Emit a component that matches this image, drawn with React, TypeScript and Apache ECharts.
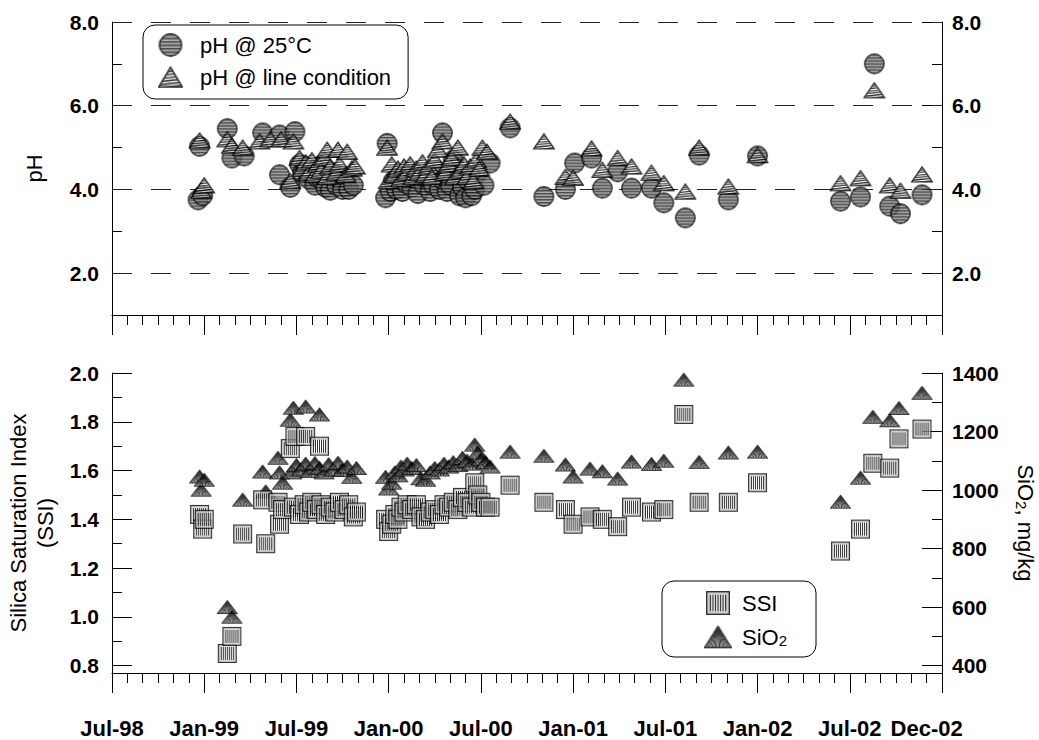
import React, { useEffect, useRef } from 'react';
import * as echarts from 'echarts';

const FONT = '"Liberation Sans", Arial, Helvetica, sans-serif';

// x values: months elapsed since 1 Jul 1998
const ph25: number[][] = [
  [5.7, 5.03], [5.6, 3.75], [5.9, 3.85],
  [7.5, 5.45], [7.8, 4.75], [8.6, 4.8],
  [9.8, 5.35], [10.9, 5.3], [11.9, 5.38], [10.9, 4.35], [11.6, 4.05],
  [12.2, 4.6], [12.4, 4.4], [12.6, 4.55], [12.8, 4.25], [13.0, 4.45], [13.2, 4.1], [13.3, 4.3],
  [13.5, 4.55], [13.7, 4.2], [13.9, 4.05], [14.0, 4.35], [14.2, 3.98], [14.4, 4.4], [14.6, 4.1],
  [14.8, 4.25], [15.0, 4.0], [15.2, 4.3], [15.4, 4.0], [15.7, 4.1],
  [17.9, 5.1], [17.8, 3.8], [18.1, 3.95], [18.3, 4.2], [18.5, 4.0], [18.7, 4.3], [18.9, 3.95],
  [19.1, 4.15], [19.3, 4.4], [19.5, 4.05], [19.7, 4.25], [19.9, 3.9], [20.1, 4.3], [20.3, 4.1],
  [20.5, 4.25], [20.7, 3.95], [20.9, 4.1], [21.1, 4.45], [21.3, 4.0], [21.5, 5.35], [21.6, 4.2],
  [21.8, 3.95], [22.2, 4.7], [22.0, 4.1], [22.4, 4.5], [22.6, 3.85], [22.8, 4.05], [23.0, 3.8],
  [23.2, 4.2], [23.4, 3.85], [23.6, 4.0], [23.8, 4.4], [24.6, 4.63], [24.2, 4.1],
  [25.9, 5.47], [28.1, 3.83], [29.5, 4.0], [30.1, 4.63], [31.2, 4.75], [31.9, 4.03], [32.9, 4.42],
  [33.8, 4.03], [35.1, 4.03], [35.9, 3.68], [37.3, 3.32], [38.2, 4.82], [40.1, 3.75], [42.0, 4.8],
  [47.4, 3.72], [48.7, 3.82], [49.6, 7.0], [50.6, 3.6], [51.3, 3.42], [52.7, 3.87],
];

const phLine: number[][] = [
  [5.7, 5.17], [5.8, 3.97], [6.0, 4.1],
  [7.5, 5.2], [7.8, 5.05], [8.5, 5.0],
  [9.6, 5.15], [10.3, 5.2], [11.0, 5.2], [11.8, 5.15], [11.6, 4.2],
  [12.2, 4.75], [12.4, 4.5], [12.6, 4.65], [12.8, 4.4], [13.0, 4.7], [13.2, 4.35], [13.4, 4.6],
  [13.6, 4.45], [13.8, 4.75], [14.0, 4.3], [14.2, 4.55], [14.0, 4.95], [14.6, 4.4], [14.8, 4.6],
  [14.7, 4.95], [15.2, 4.35], [15.3, 4.9], [15.6, 4.5], [15.8, 4.55],
  [17.9, 5.0], [18.0, 4.2], [18.2, 4.6], [18.4, 4.35], [18.6, 4.5], [18.8, 4.25], [19.0, 4.55],
  [19.2, 4.4], [19.4, 4.6], [19.6, 4.3], [19.8, 4.5], [20.0, 4.4], [20.2, 4.65], [20.4, 4.35],
  [20.6, 4.55], [20.8, 4.3], [21.0, 4.7], [21.2, 4.95], [21.5, 5.15], [21.7, 4.4], [21.9, 4.6],
  [22.1, 4.75], [22.3, 4.3], [22.5, 5.0], [22.7, 4.45], [22.9, 4.6], [23.1, 4.3], [23.3, 4.55],
  [23.5, 4.2], [23.7, 4.7], [23.9, 4.5], [24.1, 5.0], [24.4, 4.9],
  [25.9, 5.62], [28.1, 5.15], [29.5, 4.3], [30.0, 4.28], [31.2, 4.98], [31.9, 4.47], [32.9, 4.75],
  [33.8, 4.55], [35.1, 4.4], [35.9, 4.15], [37.3, 3.95], [38.2, 5.0], [40.1, 4.07], [42.0, 4.82],
  [47.4, 4.15], [48.7, 4.27], [49.6, 6.37], [50.6, 4.1], [51.3, 3.97], [52.7, 4.36],
];

const ssi: number[][] = [
  [5.7, 1.42], [5.9, 1.36], [6.0, 1.4],
  [7.5, 0.85], [7.8, 0.92],
  [8.5, 1.34],
  [9.8, 1.48], [10.0, 1.3], [10.8, 1.47], [10.9, 1.38], [11.1, 1.44],
  [11.6, 1.69], [11.9, 1.74], [12.6, 1.74], [13.5, 1.7],
  [11.8, 1.45], [12.2, 1.42], [12.5, 1.46], [12.8, 1.43], [13.0, 1.47], [13.3, 1.44], [13.6, 1.46],
  [13.9, 1.42], [14.2, 1.45], [14.5, 1.43], [14.8, 1.47], [15.1, 1.44], [15.4, 1.46], [15.7, 1.41],
  [15.9, 1.43],
  [17.8, 1.4], [18.0, 1.35], [18.2, 1.38], [18.4, 1.42], [18.6, 1.4], [18.8, 1.45], [19.0, 1.43],
  [19.2, 1.46], [19.5, 1.44], [19.8, 1.46], [20.1, 1.41], [20.4, 1.4], [20.7, 1.43], [21.0, 1.44],
  [21.3, 1.42], [21.6, 1.46], [21.9, 1.45], [22.2, 1.47], [22.5, 1.44], [22.8, 1.49], [23.1, 1.47],
  [23.4, 1.45], [23.6, 1.55], [23.8, 1.5], [24.0, 1.47], [24.3, 1.45], [24.6, 1.45],
  [25.9, 1.54], [28.1, 1.47], [29.5, 1.44], [30.0, 1.38], [31.1, 1.41], [31.9, 1.4], [32.9, 1.37],
  [33.8, 1.45], [35.1, 1.43], [35.9, 1.44], [37.2, 1.83], [38.2, 1.47], [40.1, 1.47], [42.0, 1.55],
  [47.4, 1.27], [48.7, 1.36], [49.5, 1.63], [50.6, 1.61], [51.2, 1.73], [52.7, 1.77],
];

const sio2: number[][] = [
  [5.7, 1046], [5.8, 1001], [6.0, 1035],
  [7.5, 600], [7.8, 567],
  [8.5, 967],
  [9.8, 1063], [10.0, 995], [10.8, 1110], [10.9, 1060], [11.1, 1025],
  [11.6, 1240], [11.8, 1281], [12.6, 1285], [13.5, 1258],
  [11.7, 1060], [12.0, 1085], [12.3, 1070], [12.6, 1090], [12.9, 1065], [13.2, 1092], [13.5, 1075],
  [13.8, 1060], [14.1, 1088], [14.4, 1070], [14.7, 1093], [15.0, 1068], [15.3, 1080], [15.6, 1045],
  [15.9, 1075],
  [17.8, 1045], [18.0, 1005], [18.2, 1025], [18.4, 1060], [18.6, 1050], [18.8, 1080], [19.0, 1070],
  [19.2, 1090], [19.5, 1075], [19.8, 1085], [20.1, 1040], [20.4, 1035], [20.7, 1060], [21.0, 1075],
  [21.3, 1070], [21.6, 1090], [21.9, 1080], [22.2, 1095], [22.5, 1085], [22.8, 1110], [23.1, 1100],
  [23.4, 1090], [23.6, 1155], [23.8, 1128], [24.0, 1105], [24.3, 1095], [24.6, 1080],
  [25.9, 1131], [28.1, 1117], [29.5, 1087], [30.0, 1046], [31.1, 1073], [31.9, 1064], [32.9, 1039],
  [33.8, 1097], [35.1, 1089], [35.9, 1100], [37.2, 1377], [38.2, 1096], [40.1, 1128], [42.0, 1131],
  [47.4, 960], [48.7, 1042], [49.5, 1250], [50.6, 1238], [51.2, 1280], [52.7, 1332],
];

const xLabelMonths = [0, 6, 12, 18, 24, 30, 36, 42, 48, 53];
const xLabelTexts = ['Jul-98', 'Jan-99', 'Jul-99', 'Jan-00', 'Jul-00', 'Jan-01', 'Jul-01', 'Jan-02', 'Jul-02', 'Dec-02'];
const xMajorTicks = [0, 6, 12, 18, 24, 30, 36, 42, 48, 54];
const phLabels = [2, 4, 6, 8];
const ssiLabels = [0.8, 1.0, 1.2, 1.4, 1.6, 1.8, 2.0];
const sio2Labels = [400, 600, 800, 1000, 1200, 1400];

const X_MIN = 0, X_MAX = 54;
const PH_MIN = 1, PH_MAX = 8;
const SSI_MIN = 0.77, SSI_MAX = 2.0;
const SIO2_MIN = 375, SIO2_MAX = 1400;

function steps(a: number, b: number, s: number): number[] {
  const out: number[] = [];
  const n = Math.round((b - a) / s);
  for (let i = 0; i <= n; i++) out.push(Math.round((a + i * s) * 1000) / 1000);
  return out;
}

function canvas(w: number, h: number) {
  const c = document.createElement('canvas');
  c.width = w; c.height = h;
  return c;
}

function circleIcon(size: number) {
  const c = canvas(size, size); const g = c.getContext('2d')!;
  const r = size / 2;
  const p = () => { g.beginPath(); g.arc(r, r, r - 0.8, 0, Math.PI * 2); g.closePath(); };
  p(); g.fillStyle = '#9c9c9c'; g.fill();
  g.save(); p(); g.clip();
  g.fillStyle = '#1e1e1e';
  for (let y = 1; y < size; y += 3) g.fillRect(0, y, size, 1.5);
  g.restore();
  p(); g.lineWidth = 1.4; g.strokeStyle = '#000'; g.stroke();
  return 'image://' + c.toDataURL();
}

function stripedTriangleIcon(w: number, h: number) {
  const c = canvas(w, h); const g = c.getContext('2d')!;
  const p = () => { g.beginPath(); g.moveTo(w / 2, 0.8); g.lineTo(w - 0.7, h - 0.7); g.lineTo(0.7, h - 0.7); g.closePath(); };
  p(); g.fillStyle = '#fff'; g.fill();
  g.save(); p(); g.clip();
  g.strokeStyle = '#000'; g.lineWidth = 1.4;
  for (let y = 3; y < h + 6; y += 2.7) { g.beginPath(); g.moveTo(0, y); g.lineTo(w, y - 2.5); g.stroke(); }
  g.restore();
  p(); g.lineWidth = 1.4; g.strokeStyle = '#000'; g.stroke();
  return 'image://' + c.toDataURL();
}

function squareIcon(s: number) {
  const c = canvas(s, s); const g = c.getContext('2d')!;
  g.fillStyle = '#d4d4d4'; g.fillRect(0, 0, s, s);
  g.fillStyle = '#fff'; g.fillRect(3, 3, s - 6, s - 6);
  g.fillStyle = '#000';
  for (let x = 3.5; x < s - 3; x += 2) g.fillRect(Math.floor(x), 3, 1, s - 6);
  g.strokeStyle = '#000'; g.lineWidth = 1.2; g.strokeRect(0.6, 0.6, s - 1.2, s - 1.2);
  return 'image://' + c.toDataURL();
}

function fanTriangleIcon(w: number, h: number) {
  const c = canvas(w, h); const g = c.getContext('2d')!;
  const p = () => { g.beginPath(); g.moveTo(w / 2, 0.6); g.lineTo(w - 0.6, h - 0.6); g.lineTo(0.6, h - 0.6); g.closePath(); };
  p(); g.fillStyle = '#fff'; g.fill();
  g.save(); p(); g.clip();
  g.strokeStyle = '#000'; g.lineWidth = 1.0;
  for (let x = -1; x <= w + 1; x += 1.8) { g.beginPath(); g.moveTo(w / 2, 0); g.lineTo(x, h); g.stroke(); }
  g.restore();
  p(); g.lineWidth = 1.2; g.strokeStyle = '#000'; g.stroke();
  return 'image://' + c.toDataURL();
}

const black = { color: '#000', width: 1 };

function yAxisPair(gridIndex: number, side: 'left' | 'right', min: number, max: number,
  minor: number[], major: number[], fmt: (v: number) => string, name: any) {
  const base = {
    type: 'value', gridIndex, min, max, position: side,
    splitLine: { show: false },
  };
  return [
    {
      ...base,
      axisLine: { show: true, onZero: false, lineStyle: black },
      axisTick: { show: true, inside: true, length: 10, customValues: minor, lineStyle: black },
      axisLabel: { show: false },
    },
    {
      ...base,
      axisLine: { show: false, onZero: false },
      axisTick: { show: true, inside: true, length: 20, customValues: major, lineStyle: black },
      axisLabel: {
        show: true, customValues: major, formatter: fmt, margin: side === 'left' ? 13 : 10,
        fontSize: 21, fontWeight: 'bold', fontFamily: FONT, color: '#000',
      },
      ...name,
    },
  ];
}

function xAxisPair(gridIndex: number, withLabels: boolean) {
  const base = {
    type: 'value', gridIndex, min: X_MIN, max: X_MAX, position: 'bottom',
    splitLine: { show: false },
  };
  return [
    {
      ...base,
      axisLine: { show: true, onZero: false, lineStyle: black },
      axisTick: { show: true, length: 10, customValues: steps(X_MIN, X_MAX, 1), lineStyle: black },
      axisLabel: { show: false },
    },
    {
      ...base,
      axisLine: { show: false, onZero: false },
      axisTick: { show: true, length: 20, customValues: xMajorTicks, lineStyle: black },
      axisLabel: withLabels ? {
        show: true, customValues: xLabelMonths, margin: 44,
        formatter: (v: number) => { const i = xLabelMonths.indexOf(Math.round(v)); return i >= 0 ? xLabelTexts[i] : ''; },
        fontSize: 22, fontWeight: 'bold', fontFamily: FONT, color: '#000',
      } : { show: false },
    },
  ];
}

export default function App() {
  const ref = useRef<HTMLDivElement>(null);
  useEffect(() => {
    document.body.style.margin = '0';
    if (!ref.current) return;
    const chart = echarts.init(ref.current, undefined, { renderer: 'svg' });

    const iconCircle = circleIcon(21);
    const iconTri = stripedTriangleIcon(22, 19);
    const iconSquare = squareIcon(19);
    const iconFan = fanTriangleIcon(21, 17);

    const nameStyle = { fontSize: 22, fontFamily: FONT, color: '#000' };
    const subRich = { sub: { fontSize: 15, fontFamily: FONT, color: '#000', verticalAlign: 'bottom', lineHeight: 15 } };

    const option: any = {
      animation: false,
      backgroundColor: '#fff',
      grid: [
        { left: 112, right: 97, top: 22, height: 293, outerBoundsMode: 'none' },
        { left: 112, right: 97, top: 373, height: 300, outerBoundsMode: 'none' },
      ],
      xAxis: [...xAxisPair(0, false), ...xAxisPair(1, true)],
      yAxis: [
        ...yAxisPair(0, 'left', PH_MIN, PH_MAX, steps(1, 8, 1), phLabels, (v) => v.toFixed(1), {
          name: 'pH', nameLocation: 'middle', nameRotate: 90, nameGap: 67, nameTextStyle: nameStyle,
        }),
        ...yAxisPair(0, 'right', PH_MIN, PH_MAX, steps(1, 8, 1), phLabels, (v) => v.toFixed(1), {}),
        ...yAxisPair(1, 'left', SSI_MIN, SSI_MAX, steps(0.8, 2.0, 0.1), ssiLabels, (v) => v.toFixed(1), {
          name: 'Silica Saturation Index\n(SSI)', nameLocation: 'middle', nameRotate: 90, nameGap: 46,
          nameTextStyle: { ...nameStyle, lineHeight: 27 },
        }),
        ...yAxisPair(1, 'right', SIO2_MIN, SIO2_MAX, steps(400, 1400, 100), sio2Labels, (v) => String(Math.round(v)), {
          name: 'SiO{sub|2}, mg/kg', nameLocation: 'middle', nameRotate: -90, nameGap: 72,
          nameTextStyle: { ...nameStyle, rich: subRich },
        }),
      ],
      legend: [
        {
          orient: 'vertical', left: 143, top: 25, padding: [8, 17, 10, 15], itemGap: 8,
          itemWidth: 25, itemHeight: 24, borderColor: '#000', borderWidth: 1, borderRadius: 12,
          selectedMode: false,
          data: [{ name: 'pH @ 25°C', icon: iconCircle }, { name: 'pH @ line condition', icon: iconTri }],
          textStyle: { fontSize: 22, fontFamily: FONT, color: '#000', padding: [0, 0, 0, 12] },
        },
        {
          orient: 'vertical', left: 662, top: 581, padding: [10, 29, 8, 42], itemGap: 10,
          itemWidth: 28, itemHeight: 24, borderColor: '#000', borderWidth: 1, borderRadius: 12,
          selectedMode: false,
          data: [{ name: 'SSI', icon: iconSquare }, { name: 'SiO2', icon: iconFan }],
          formatter: (n: string) => (n === 'SiO2' ? 'SiO{sub|2}' : n),
          textStyle: { fontSize: 22, fontFamily: FONT, color: '#000', padding: [0, 0, 0, 5], rich: subRich },
        },
      ],
      series: [
        {
          type: 'scatter', name: 'gridlines', xAxisIndex: 0, yAxisIndex: 1, data: [], z: 1, silent: true,
          markLine: {
            silent: true, symbol: ['none', 'none'], label: { show: false },
            lineStyle: { color: '#222', width: 1, type: [20, 19] },
            emphasis: { disabled: true },
            data: phLabels.map((v) => ({ yAxis: v })),
          },
        },
        {
          type: 'scatter', name: 'pH @ 25°C', xAxisIndex: 0, yAxisIndex: 1, data: ph25,
          symbol: iconCircle, symbolSize: [21, 21], z: 10, silent: true,
        },
        {
          type: 'scatter', name: 'pH @ line condition', xAxisIndex: 0, yAxisIndex: 1, data: phLine,
          symbol: iconTri, symbolSize: [22, 19], z: 11, silent: true,
        },
        {
          type: 'scatter', name: 'SiO2', xAxisIndex: 2, yAxisIndex: 7, data: sio2,
          symbol: iconFan, symbolSize: [21, 17], z: 10, silent: true,
        },
        {
          type: 'scatter', name: 'SSI', xAxisIndex: 2, yAxisIndex: 5, data: ssi,
          symbol: iconSquare, symbolSize: [19, 19], z: 11, silent: true,
        },
      ],
    };
    chart.setOption(option);
    return () => chart.dispose();
  }, []);
  return <div ref={ref} style={{ width: 1039, height: 740 }} />;
}
